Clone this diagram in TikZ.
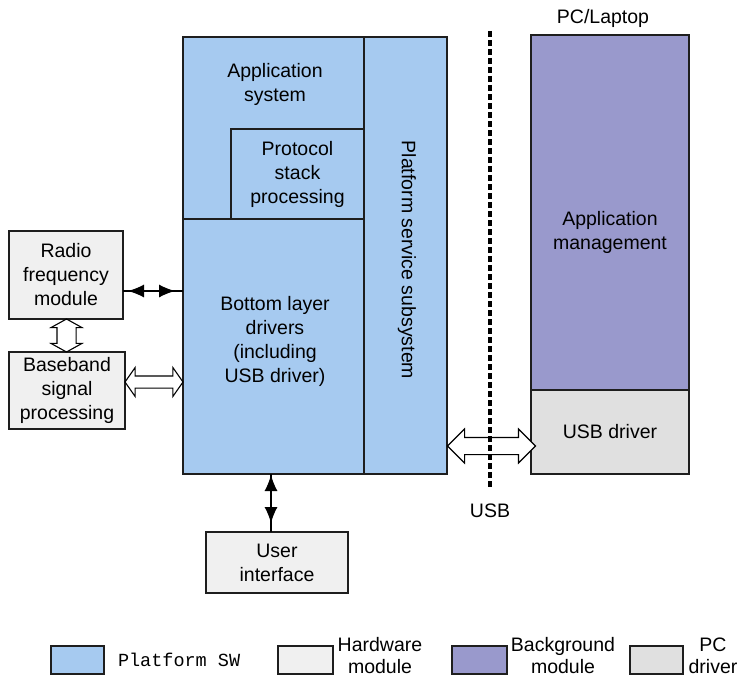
\documentclass[tikz,border=0pt]{standalone}
\usepackage{fontspec}
\setmainfont{Liberation Sans}
\newfontfamily\legmono{Liberation Mono}
\usetikzlibrary{arrows.meta,shapes.arrows,calc}
\definecolor{swblue}{RGB}{166,202,240}
\definecolor{hwgray}{RGB}{240,240,240}
\definecolor{bgpurple}{RGB}{153,153,204}
\definecolor{pcgray}{RGB}{224,224,224}
\definecolor{edge}{RGB}{30,30,30}
\newcommand{\mainfnt}{\fontsize{19.5}{24}\selectfont}
\newcommand{\legfnt}{\fontsize{19.5}{22}\selectfont}
\begin{document}
\begin{tikzpicture}[x=1pt,y=-1pt,
  every node/.style={inner sep=0pt, outer sep=0pt},
  blk/.style={draw=edge, line width=1.3pt, rectangle, align=center, font=\mainfnt},
  sw/.style={blk, fill=swblue},
  hw/.style={blk, fill=hwgray},
  bg/.style={blk, fill=bgpurple},
  pc/.style={blk, fill=pcgray},
  txt/.style={align=center, font=\mainfnt},
  ltxt/.style={align=center, font=\legfnt},
  conn/.style={line width=1.2pt, draw=black},
  solidtip/.style={conn, {Latex[length=16pt,width=13pt]}-{Latex[length=16pt,width=13pt]}},
  hollow/.style={double arrow, draw=black, fill=white, line width=1.1pt, inner xsep=0pt},
  usbline/.style={line width=3.2pt, dash pattern=on 6pt off 3pt}
]
\fill[white] (0,0) rectangle (739,677);
\useasboundingbox (0,0) rectangle (739,677);

% platform software block
\node[sw, minimum width=181pt, minimum height=182pt] (app) at (273.5,128) {};
\node[txt] (apptext) at (275,84) {Application\\system};
\node[sw, minimum width=133pt, minimum height=90pt] (proto) at (297.5,174) {Protocol\\stack\\processing};
\node[sw, minimum width=181pt, minimum height=255pt] (bottom) at (273.5,346.5) {};
\node[txt] (bottomtext) at (275,341) {Bottom layer\\drivers\\(including\\USB driver)};
\node[sw, minimum width=83pt, minimum height=437pt] (pss) at (405.5,255.5) {};
\node[txt, rotate=-90] (psstext) at (407,260) {Platform service subsystem};

% hardware modules
\node[hw, minimum width=114pt, minimum height=88pt] (rf) at (66,275) {Radio\\frequency\\module};
\node[hw, minimum width=116pt, minimum height=77pt] (bb) at (67,390.5) {Baseband\\signal\\processing};
\node[hw, minimum width=142pt, minimum height=61pt] (ui) at (277,562.5) {User\\interface};

% PC side
\node[txt] (pclabel) at (603,18) {PC/Laptop};
\node[bg, minimum width=158pt, minimum height=355pt] (pcapp) at (610,212.5) {};
\node[txt] (pcapptext) at (610,232) {Application\\management};
\node[pc, minimum width=158pt, minimum height=84pt] (usbdrv) at (610,432) {USB driver};

% solid double arrows
\draw[conn] ([yshift=-16pt]rf.east) coordinate (rfa) -- (rfa -| bottom.west) coordinate (rfb);
\draw[solidtip, shorten <=5pt, shorten >=8pt] (rfa) -- (rfb);
\draw[conn] ([xshift=-6pt]ui.north) coordinate (uia) -- (uia |- bottom.south) coordinate (uib);
\draw[solidtip, shorten <=9pt, shorten >=1pt] (uia) -- (uib);

% hollow double arrows
\node[hollow, rotate=90, minimum height=33pt, minimum width=30pt, inner ysep=9pt,
      double arrow head extend=6pt, double arrow tip angle=122]
      (rfbb) at ($(rf.south)!0.5!(bb.north)$) {};
\path ([yshift=8.5pt]bb.east) coordinate (bba);
\path (bba -| bottom.west) coordinate (bbb);
\node[hollow, minimum height=58pt, minimum width=28pt, inner ysep=5.5pt,
      double arrow head extend=8.5pt, double arrow tip angle=110]
      (bbarrow) at ($(bba)!0.5!(bbb)$) {};
\path (pss.east |- usbdrv.west) ++(0,14) coordinate (ula);
\path (usbdrv.west) ++(5,14) coordinate (ulb);
\node[hollow, minimum height=88pt, minimum width=33pt, inner ysep=8pt,
      double arrow head extend=8.5pt, double arrow tip angle=90]
      (usbarrow) at ($(ula)!0.5!(ulb)$) {};

% USB boundary
\coordinate (dtop) at (490,31);
\coordinate (dbot) at (490,487);
\draw[usbline] (dtop) -- (dbot);
\node[txt] (usblabel) at (490,511) {USB};

% legend
\node[sw, minimum width=53pt, minimum height=28pt] (lsw) at (77.5,660) {};
\node[font=\legmono\fontsize{18.5}{22}\selectfont, anchor=west] (lswt) at (118,660) {Platform SW};
\node[hw, minimum width=55pt, minimum height=28pt] (lhw) at (305.5,660) {};
\node[ltxt] (lhwt) at (380,656) {Hardware\\module};
\node[bg, minimum width=55pt, minimum height=28pt] (lbg) at (479.5,660) {};
\node[ltxt] (lbgt) at (563,656) {Background\\module};
\node[pc, minimum width=53pt, minimum height=28pt] (lpc) at (656.5,660) {};
\node[ltxt] (lpct) at (713,656) {PC\\driver};
\end{tikzpicture}
\end{document}
